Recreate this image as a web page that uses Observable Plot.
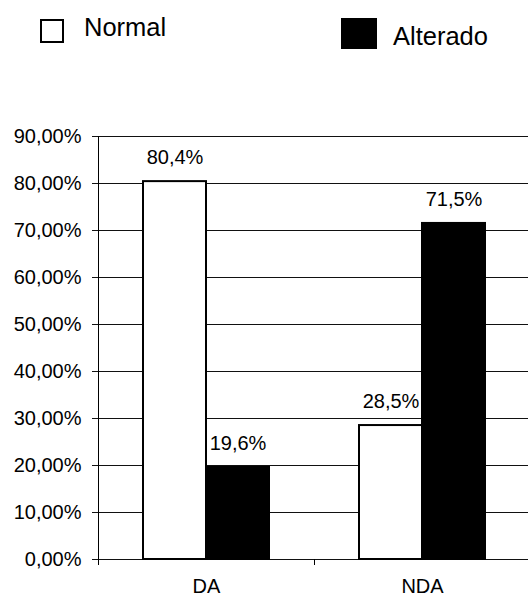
<!DOCTYPE html>
<html>
<head>
<meta charset="utf-8">
<script src="https://cdn.jsdelivr.net/npm/d3@7"></script>
<script src="https://cdn.jsdelivr.net/npm/@observablehq/plot@0.6"></script>
<style>
  html, body { margin: 0; padding: 0; background: #fff; }
  body { font-family: "Liberation Sans", Arial, sans-serif; }
  #wrap { position: relative; width: 528px; height: 597px; overflow: hidden; }
  #legend { position: relative; width: 528px; height: 100px; }
  .sw { position: absolute; box-sizing: border-box; }
  .lt { position: absolute; font-size: 25.5px; line-height: 25.5px; color: #000; white-space: nowrap; }
  #chart svg { display: block; }
</style>
</head>
<body>
<div id="wrap">
  <div id="legend"></div>
  <div id="chart"></div>
</div>
<script>
// ---- data ----
const categories = ["DA", "NDA"];
const series = ["Normal", "Alterado"];
const normalValues = [80.4, 28.5];
const alteradoValues = [19.6, 71.5];
const seriesColors = ["#ffffff", "#000000"];
const yTicks = [0, 10, 20, 30, 40, 50, 60, 70, 80, 90];

const rows = [];
categories.forEach((c, i) => {
  rows.push({category: c, series: series[0], value: normalValues[i]});
  rows.push({category: c, series: series[1], value: alteradoValues[i]});
});

const fmtTick = d => d.toFixed(2).replace(".", ",") + "%";
const fmtVal = d => d.toFixed(1).replace(".", ",") + "%";

// ---- legend (HTML) ----
const legend = document.getElementById("legend");
const legendLayout = [
  {sw: {left: 40, top: 19, width: 24, height: 24, border: "2px solid #000"}, text: {left: 84, top: 15.4}},
  {sw: {left: 341, top: 18, width: 36, height: 31, border: "none"}, text: {left: 393, top: 24.4}}
];
series.forEach((s, i) => {
  const L = legendLayout[i];
  const sw = document.createElement("div");
  sw.className = "sw";
  sw.style.left = L.sw.left + "px";
  sw.style.top = L.sw.top + "px";
  sw.style.width = L.sw.width + "px";
  sw.style.height = L.sw.height + "px";
  sw.style.border = L.sw.border;
  sw.style.background = seriesColors[i];
  legend.appendChild(sw);
  const t = document.createElement("span");
  t.className = "lt";
  t.style.left = L.text.left + "px";
  t.style.top = L.text.top + "px";
  t.textContent = s;
  legend.appendChild(t);
});

// ---- chart ----
const plot = Plot.plot({
  width: 528,
  height: 497,
  marginTop: 36,
  marginBottom: 38,
  marginLeft: 98,
  marginRight: -2,
  style: {fontFamily: "Liberation Sans, Arial, sans-serif", fontSize: "20px", color: "#000", background: "#fff", overflow: "visible"},
  fx: {domain: categories, padding: 0, axis: "bottom", label: null, tickSize: 0, tickPadding: 19, fontSize: 20},
  x: {domain: series, paddingInner: 0, paddingOuter: 0.714, axis: null},
  y: {domain: [0, 90], ticks: yTicks, tickFormat: fmtTick, tickSize: 0, tickPadding: 17, label: null, fontSize: 20},
  color: {domain: series, range: seriesColors},
  marks: [
    Plot.ruleY(yTicks, {stroke: "#111", strokeWidth: 1, insetLeft: -6}),
    Plot.barY(rows, {fx: "category", x: "series", y: "value", fill: "series", stroke: "#000", strokeWidth: 2, sort: null}),
    Plot.text(rows, {fx: "category", x: "series", y: "value", text: d => fmtVal(d.value), dy: -24, lineAnchor: "middle", fontSize: 20, fill: "#000"})
  ]
});
document.getElementById("chart").appendChild(plot);

// boundary ticks and y axis line through the library's scales
const fxS = plot.scale("fx");
const yS = plot.scale("y");
const svg = d3.select(plot);
const y0 = yS.apply(0), yTop = yS.apply(90);
const g = svg.append("g").attr("stroke", "#000").attr("stroke-width", 1);
categories.forEach(c => {
  const xb = Math.round(fxS.apply(c)) + 0.5;
  g.append("line").attr("x1", xb).attr("x2", xb).attr("y1", y0).attr("y2", y0 + 6);
});
const xa = Math.round(fxS.apply(categories[0])) + 0.5;
g.append("line").attr("x1", xa).attr("x2", xa).attr("y1", yTop).attr("y2", y0 + 6);
</script>
</body>
</html>
